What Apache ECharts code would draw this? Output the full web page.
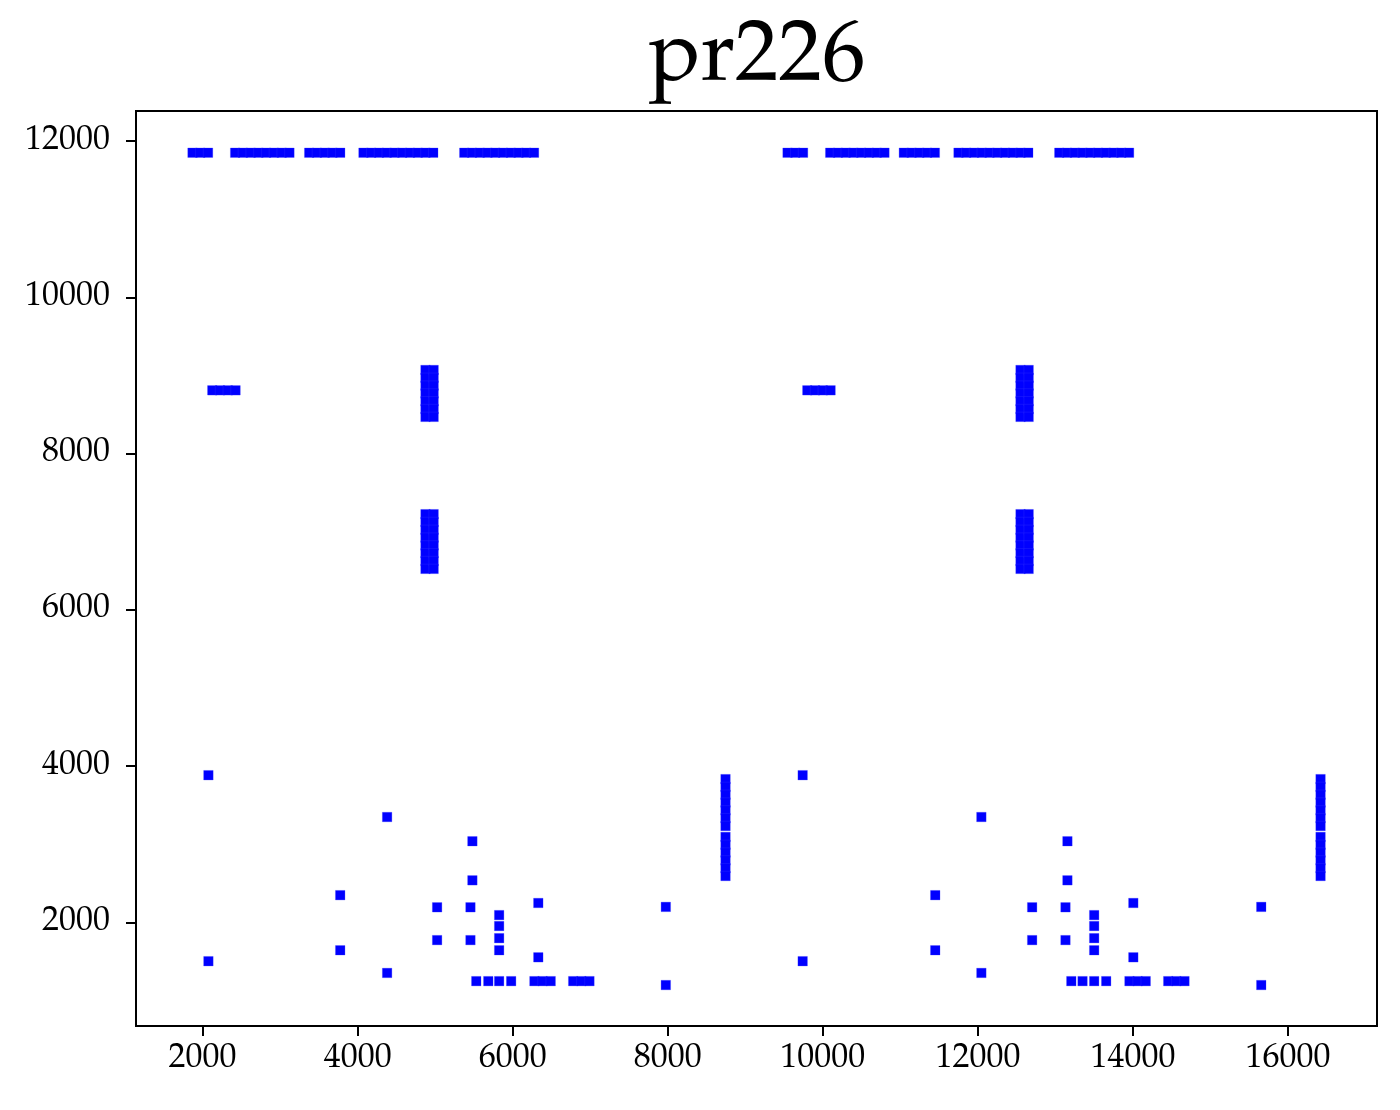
<!DOCTYPE html>
<html>
<head>
<meta charset="utf-8">
<script src="https://cdn.jsdelivr.net/npm/echarts@6/dist/echarts.min.js"></script>
<style>
html, body { margin: 0; padding: 0; background: #fff; }
#main { width: 1400px; height: 1110px; }
</style>
</head>
<body>
<div id="main"></div>
<script>
// city coordinates
var topRowY = 11850;
var topRowX = [1870, 1970, 2070,
    2420, 2520, 2620, 2720, 2820, 2920, 3020, 3120,
    3375, 3475, 3575, 3675, 3775,
    4075, 4175, 4275, 4375, 4475, 4575, 4675, 4775, 4875, 4975,
    5375, 5475, 5575, 5675, 5775, 5875, 5975, 6075, 6175, 6275,
    9545, 9645, 9745,
    10095, 10195, 10295, 10395, 10495, 10595, 10695, 10795,
    11045, 11145, 11245, 11345, 11445,
    11750, 11850, 11950, 12050, 12150, 12250, 12350, 12450, 12550, 12650,
    13050, 13150, 13250, 13350, 13450, 13550, 13650, 13750, 13850, 13950];

var midRowY = 8810;
var midRowX = [2125, 2225, 2325, 2425, 9800, 9900, 10000, 10100];

var colX = [4875, 4980, 12550, 12655];
var colY = [9070, 8970, 8870, 8770, 8670, 8570, 8470,
    7225, 7125, 7025, 6925, 6825, 6725, 6625, 6525];

var spineX = [8745, 16420];
var spineY = [3835, 3735, 3635, 3535, 3435, 3335, 3235,
    3095, 2995, 2895, 2795, 2695, 2595];

var bottomRowY = 1250;
var bottomRowX = [5530, 5685, 5825, 5980, 6280, 6385, 6490, 6780, 6885, 6990,
    13205, 13350, 13500, 13655, 13955, 14060, 14165, 14455, 14560, 14665];

var looseX = [2075, 2075, 4380, 4380, 3775, 3775, 5480, 5480, 5025, 5455,
    5025, 5455, 5825, 5825, 5825, 5825, 6330, 6330, 7975, 7975,
    9740, 9740, 12045, 12045, 11450, 11450, 13155, 13155, 12700, 13130,
    12700, 13130, 13500, 13500, 13500, 13500, 14005, 14005, 15655, 15655];
var looseY = [3885, 1505, 3350, 1355, 2350, 1645, 3040, 2540, 2195, 2195,
    1775, 1775, 2095, 1955, 1800, 1645, 2250, 1555, 2200, 1200,
    3885, 1505, 3350, 1355, 2350, 1645, 3040, 2540, 2195, 2195,
    1775, 1775, 2095, 1955, 1800, 1645, 2250, 1555, 2200, 1200];

var xTicks = [2000, 4000, 6000, 8000, 10000, 12000, 14000, 16000];
var yTicks = [2000, 4000, 6000, 8000, 10000, 12000];

var points = [];
topRowX.forEach(function (x) { points.push([x, topRowY]); });
midRowX.forEach(function (x) { points.push([x, midRowY]); });
colX.forEach(function (x) { colY.forEach(function (y) { points.push([x, y]); }); });
spineX.forEach(function (x) { spineY.forEach(function (y) { points.push([x, y]); }); });
bottomRowX.forEach(function (x) { points.push([x, bottomRowY]); });
looseX.forEach(function (x, i) { points.push([x, looseY[i]]); });

var font = "'Palatino Linotype', Palatino, 'TeX Gyre Pagella', 'Liberation Serif', serif";

var option = {
    animation: false,
    backgroundColor: '#ffffff',
    title: {
        text: 'pr226',
        left: 752,
        top: 12,
        textAlign: 'center',
        textStyle: {
            fontFamily: font,
            fontWeight: 'normal',
            fontSize: 87,
            color: '#000'
        }
    },
    grid: {
        left: 136,
        right: 23,
        top: 111,
        bottom: 84,
        show: true,
        borderColor: '#000',
        borderWidth: 2
    },
    xAxis: {
        type: 'value',
        min: 1141,
        max: 17148,
        splitLine: { show: false },
        axisLine: { show: true, lineStyle: { color: '#000', width: 2 } },
        axisTick: { show: true, inside: false, length: 10, customValues: xTicks, lineStyle: { color: '#000', width: 2 } },
        axisLabel: {
            customValues: xTicks,
            formatter: function (v) { return String(v); },
            margin: 16,
            color: '#000',
            fontFamily: font,
            fontSize: 34
        }
    },
    yAxis: {
        type: 'value',
        min: 676,
        max: 12384,
        splitLine: { show: false },
        axisLine: { show: true, lineStyle: { color: '#000', width: 2 } },
        axisTick: { show: true, inside: false, length: 10, customValues: yTicks, lineStyle: { color: '#000', width: 2 } },
        axisLabel: {
            customValues: yTicks,
            formatter: function (v) { return String(v); },
            margin: 26,
            color: '#000',
            fontFamily: font,
            fontSize: 34
        }
    },
    series: [{
        type: 'scatter',
        symbol: 'rect',
        symbolSize: 9.5,
        itemStyle: {
            color: '#0000ff',
            borderColor: 'rgba(60,60,255,0.35)',
            borderWidth: 0.8,
            opacity: 1
        },
        data: points
    }]
};

var chart = echarts.init(document.getElementById('main'));
chart.setOption(option);
</script>
</body>
</html>
